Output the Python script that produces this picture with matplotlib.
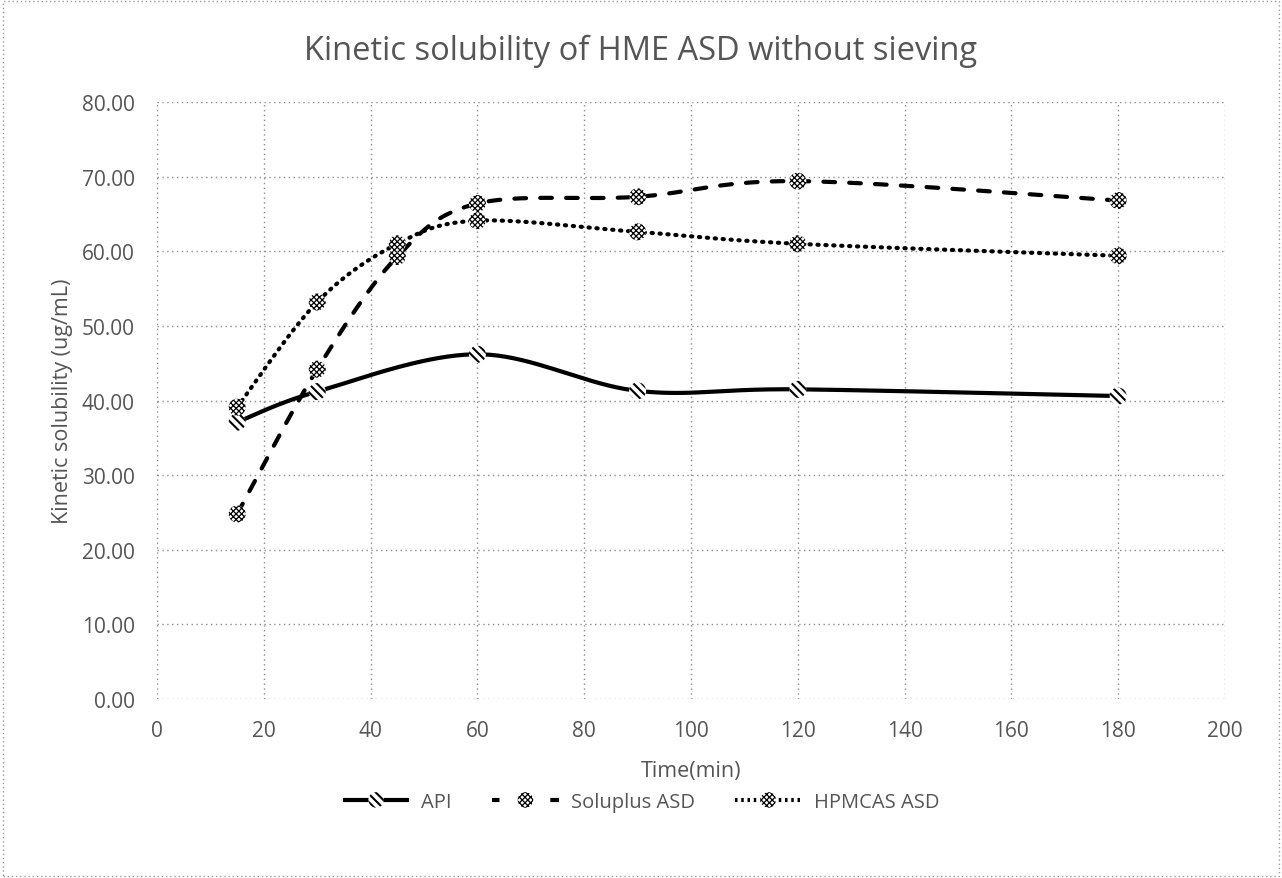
import numpy as np
import matplotlib
matplotlib.use('Agg')
import matplotlib.pyplot as plt
from matplotlib.lines import Line2D
from matplotlib.patches import Rectangle, Circle

plt.rcParams['font.family'] = ['Open Sans', 'DejaVu Sans']

# Sampling times (min) and measured solubility (ug/mL)
time_api = [15, 30, 60, 90, 120, 180]
api = [37.1, 41.2, 46.2, 41.3, 41.5, 40.6]

time_asd = [15, 30, 45, 60, 90, 120, 180]
soluplus = [24.8, 44.2, 59.3, 66.4, 67.3, 69.4, 66.8]
hpmcas = [39.1, 53.2, 61.0, 64.1, 62.6, 61.0, 59.4]

text_color = '#555555'
grid_color = '#8c8c8c'


def smooth(x, y, n=40):
    """Catmull-Rom style bezier smoothing, like a spreadsheet 'smoothed line'."""
    pts = np.column_stack([x, y]).astype(float)
    out = [pts[0]]
    t = np.linspace(0, 1, n)[1:, None]
    for i in range(len(pts) - 1):
        p0 = pts[max(i - 1, 0)]
        p1 = pts[i]
        p2 = pts[i + 1]
        p3 = pts[min(i + 2, len(pts) - 1)]
        c1 = p1 + (p2 - p0) / 6.0
        c2 = p2 - (p3 - p1) / 6.0
        seg = ((1 - t) ** 3) * p1 + 3 * ((1 - t) ** 2) * t * c1 \
            + 3 * (1 - t) * t ** 2 * c2 + t ** 3 * p2
        out.extend(seg)
    out = np.array(out)
    return out[:, 0], out[:, 1]


class HandlerLineMarker:
    """Legend entry: line across the handle with a hatched circle in the middle."""

    def legend_artist(self, legend, orig_handle, fontsize, handlebox):
        ls, lw, hatch, hatch_lw = orig_handle
        w, h = handlebox.width, handlebox.height
        x0, y0 = -handlebox.xdescent, -handlebox.ydescent
        yc = y0 + h / 2
        ln = Line2D([x0, x0 + w], [yc, yc], color='black', linewidth=lw,
                    linestyle=ls, solid_capstyle='butt', dash_capstyle='butt')
        handlebox.add_artist(ln)
        with plt.rc_context({'hatch.linewidth': hatch_lw}):
            c = Circle((x0 + w / 2, yc), 5.6, facecolor='white', edgecolor='black',
                       linewidth=0, hatch=hatch)
        handlebox.add_artist(c)
        return ln


fig = plt.figure(figsize=(12.82, 8.79), dpi=100)
fig.patches.append(Rectangle((0.002, 0.002), 0.996, 0.996, transform=fig.transFigure,
                             fill=False, edgecolor='#9a9a9a', linestyle=(0, (1, 2)),
                             linewidth=1.0))
ax = fig.add_axes([0.1225, 0.2036, 0.8330, 0.6792])

series = [
    ('API', time_api, api, '-', (0, (1, 0)), '\\\\\\\\', 1.5),
    ('Soluplus ASD', time_asd, soluplus, (0, (2.8, 3.4)), (1.2, (3.0, 4.6)), 'xxxxxx', 0.9),
    ('HPMCAS ASD', time_asd, hpmcas, (0, (0.3, 1.6)), (0, (0.6, 0.9)), 'xxxxxx', 0.9),
]

handles = []
labels = []
for label, xs, ys, ls, leg_ls, hatch, hlw in series:
    sx, sy = smooth(xs, ys)
    ax.plot(sx, sy, color='black', linewidth=3.0, linestyle=ls,
            solid_capstyle='round', dash_capstyle='round', zorder=3)
    with plt.rc_context({'hatch.linewidth': hlw}):
        ax.scatter(xs, ys, s=150, facecolor='white', edgecolor='black',
                   linewidth=0.0, hatch=hatch, zorder=4)
    handles.append((leg_ls, 3.0, hatch, hlw))
    labels.append(label)

ax.set_xlim(0, 200)
ax.set_ylim(0, 80)
ax.set_xticks(np.arange(0, 201, 20))
ax.set_yticks(np.arange(0, 81, 10))
ax.set_yticklabels(['%.2f' % v for v in np.arange(0, 81, 10)])
ax.grid(True, color=grid_color, linestyle=(0, (1, 2.5)), linewidth=1.0)
ax.set_axisbelow(True)
for sp in ax.spines.values():
    sp.set_visible(False)
ax.tick_params(length=0, labelsize=15, labelcolor=text_color)
ax.tick_params(axis='y', pad=16)
ax.tick_params(axis='x', pad=15)

ax.set_xlabel('Time(min)', fontsize=15.5, color=text_color, labelpad=14)
ax.set_ylabel('Kinetic solubility (ug/mL)', fontsize=15.5, color=text_color, labelpad=6)
fig.suptitle('Kinetic solubility of HME ASD without sieving', fontsize=23.5,
             color=text_color, x=0.5, y=0.96)

leg = fig.legend(handles, labels,
                 handler_map={tuple: HandlerLineMarker()},
                 loc='center', bbox_to_anchor=(0.5, 1 - 803 / 879), ncol=3,
                 frameon=False, fontsize=14.5, handlelength=3.3,
                 columnspacing=2.0, handletextpad=0.6)
for t in leg.get_texts():
    t.set_color(text_color)

fig.savefig('out.png', dpi=100)
